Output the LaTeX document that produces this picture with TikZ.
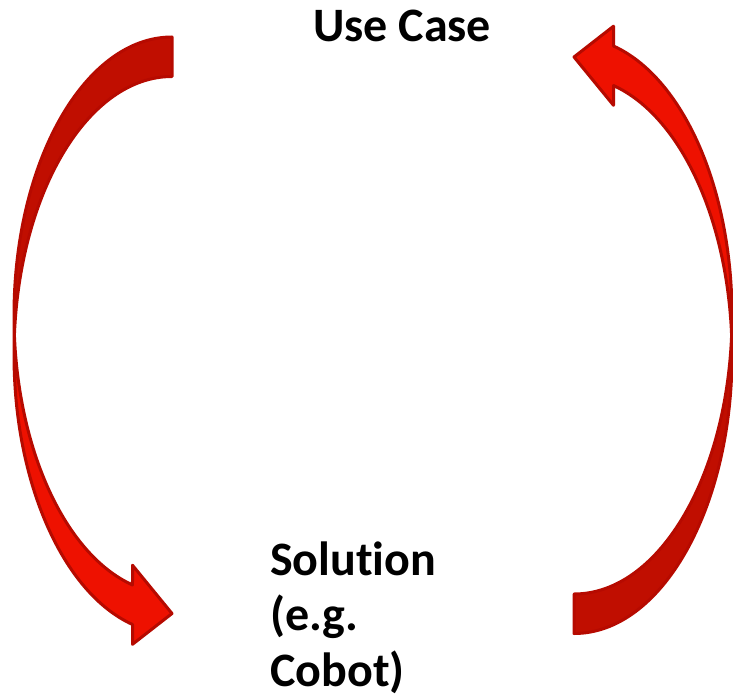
\documentclass[tikz,border=0pt]{standalone}
\usepackage{fontspec}
\setmainfont{Carlito}[Ligatures=NoCommon]
\begin{document}
\begin{tikzpicture}[x=1pt,y=-1pt]
\definecolor{arrowfront}{RGB}{238,17,0}
\definecolor{arrowback}{RGB}{192,14,0}
\definecolor{arrowline}{RGB}{182,10,0}
\tikzset{
  frontfill/.style={fill=arrowfront},
  backfill/.style={fill=arrowback},
  rimline/.style={draw=arrowline, line width=3pt, line join=round},
  boldtext/.style={font=\fontsize{48}{55.5}\selectfont\bfseries, inner sep=0pt,
                   anchor=base west, align=left},
  ell/.style={x radius=158, y radius=278.4},
  % curved ribbon arrow: tail at top right, bending through the left, head at bottom right
  curvedarrow/.pic={
    % front face of the ribbon with the arrow head
    \fill[frontfill] (0,278.4) arc[start angle=180, end angle=104.48, ell]
      -- (118.5,528.2) -- (158,576.5) -- (118.5,607.3) -- (118.5,587.5)
      arc[start angle=104.48, end angle=180, ell] -- cycle;
    % back face of the ribbon near the tail
    \fill[backfill] (158,39.5) arc[start angle=270, end angle=184.07, ell]
      arc[start angle=175.93, end angle=270, ell] -- cycle;
    % outline
    \draw[rimline] (0,278.4) arc[start angle=180, end angle=104.48, ell]
      -- (118.5,528.2) -- (158,576.5) -- (118.5,607.3) -- (118.5,587.5)
      arc[start angle=104.48, end angle=180, ell] -- (0,278.4)
      arc[start angle=180, end angle=270, ell] -- (158,39.5)
      arc[start angle=270, end angle=184.07, ell];
  }
}
\useasboundingbox (0,0) rectangle (733,698);

\pic (leftarrow) at (14,37) {curvedarrow};
\pic[rotate=180] (rightarrow) at (732,633.5) {curvedarrow};

\node[boldtext] (usecase) at (313,42) {Use Case};
% the base anchor of this node sits on its last line
\node[boldtext] (solution) at (270,686) {Solution\\(e.g.\\Cobot)};
\end{tikzpicture}
\end{document}
